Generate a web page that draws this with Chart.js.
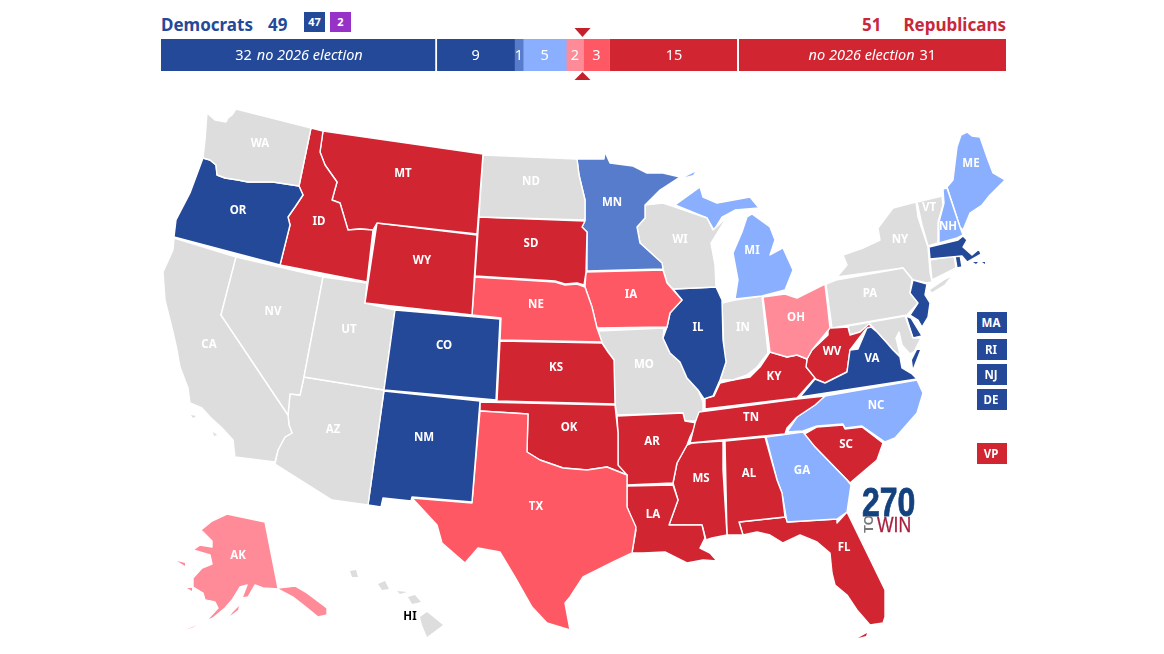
<!DOCTYPE html>
<html>
<head>
<meta charset="utf-8">
<title>2026 Senate map</title>
<script src="https://cdn.jsdelivr.net/npm/chart.js@4"></script>
<style>
  html, body { margin: 0; padding: 0; background: #fff; }
  body { width: 1164px; height: 654px; position: relative; overflow: hidden; font-family: "Noto Sans", sans-serif; }
  canvas { position: absolute; display: block; }
  .abs { position: absolute; white-space: nowrap; }
  .head { font-weight: 700; font-size: 17px; line-height: 20px; top: 15px; }
  .dem { color: #244999; }
  .rep { color: #c9283a; }
  .box { color: #fff; font-weight: 700; text-align: center; }
  .small { top: 12px; width: 21px; height: 20px; line-height: 20px; font-size: 11px; }
  .seat { left: 977px; width: 28px; padding-right: 2px; height: 21px; line-height: 21px; font-size: 11.5px; }
  .logo { font-family: "Liberation Sans", sans-serif; transform-origin: left top; }
</style>
</head>
<body>
<span class="abs head dem" style="left:161px">Democrats</span>
<span class="abs head dem" style="left:268px">49</span>
<span class="abs box small" style="left:304px;background:#244999">47</span>
<span class="abs box small" style="left:330px;background:#9632c8">2</span>
<span class="abs head rep" style="left:862px">51</span>
<span class="abs head rep" style="right:158px">Republicans</span>

<canvas id="seatBar" style="left:161px;top:25px"></canvas>
<canvas id="senateMap" style="left:0;top:0"></canvas>

<span class="abs box seat" style="top:312px;background:#244999">MA</span>
<span class="abs box seat" style="top:339px;background:#244999">RI</span>
<span class="abs box seat" style="top:364px;background:#244999">NJ</span>
<span class="abs box seat" style="top:389px;background:#244999">DE</span>
<span class="abs box seat" style="top:443px;background:#d22532">VP</span>

<span class="abs logo" style="left:862px;top:482px;font-size:41px;line-height:41px;font-weight:700;color:#13427f;-webkit-text-stroke:0.8px #13427f;transform:scaleX(0.78)">270</span>
<span class="abs logo" style="left:862px;top:533px;font-size:13px;line-height:13px;font-weight:700;color:#777;transform:rotate(-90deg)">TO</span>
<span class="abs logo" style="left:877px;top:513px;font-size:22px;line-height:24px;color:#a6213f;-webkit-text-stroke:0.3px #a6213f;transform:scaleX(0.8)">WIN</span>

<script>
// Seat bar, left to right
const barValues = [32, 9, 1, 5, 2, 3, 15, 31];
const barColors = ['#244999', '#244999', '#577ccc', '#8aafff', '#ff8b98', '#ff5865', '#d22532', '#d22532'];
const barNumbers = ['32', '9', '1', '5', '2', '3', '15', '31'];
const noElectionText = 'no 2026 election';
const majorityMark = 49;

// Ratings, by state
const safeDem = ['OR', 'CO', 'NM', 'IL', 'VA', 'MA', 'RI', 'NJ', 'DE', 'VAshore', 'MAi1', 'MAi2'];
const likelyDem = ['MN'];
const leanDem = ['MI', 'MIupper', 'MIisle', 'NH', 'ME', 'NC', 'GA'];
const leanRep = ['OH', 'AK', 'AKi1', 'AKi2', 'AKi3'];
const likelyRep = ['TX', 'NE', 'IA'];
const safeRep = ['ID', 'MT', 'WY', 'SD', 'KS', 'OK', 'AR', 'LA', 'MS', 'AL', 'TN', 'KY', 'WV', 'SC', 'FL', 'FLkeys'];
const noRace = ['WA', 'CA', 'CAi1', 'CAi2', 'NV', 'UT', 'AZ', 'ND', 'WI', 'MO', 'IN', 'PA', 'NY', 'NYli', 'VT', 'CT', 'MD', 'HI1', 'HI2', 'HI3', 'HI4', 'HI5'];
const water = ['WAsound'];
// small pieces get no white outline, it would eat them
const noOutline = ['VAshore', 'MAi1', 'MAi2', 'MIisle', 'AKi1', 'AKi2', 'AKi3', 'FLkeys', 'CAi1', 'CAi2', 'HI1', 'HI2', 'HI3', 'HI4', 'HI5', 'WAsound'];

// State outlines in map units
const WA = [[207,113],[215,120],[226,122],[228,118],[232,115],[236,109],[311,128],[299,186],[273,182],[248,182],[238,180],[225,178],[217,175],[216,165],[210,160],[203,158],[205,140]];
const WAsound = [[231,113],[234,115],[231,125],[228,135],[225,144],[227,134],[229,124]];
const OR = [[203,158],[210,160],[216,165],[217,175],[225,178],[238,180],[248,182],[273,182],[299,186],[303,195],[295,207],[288,217],[290,225],[280,265],[174,237],[176,220],[190,193]];
const ID = [[311,128],[323,131],[320,152],[325,165],[337,182],[332,200],[340,203],[348,230],[360,229],[373,230],[367,282],[280,265],[290,225],[288,217],[295,207],[303,195],[299,186]];
const MT = [[323,131],[483,154],[477,234],[377,223],[373,230],[360,229],[348,230],[340,203],[332,200],[337,182],[325,165],[320,152]];
const WY = [[377,223],[477,235],[472,315],[365,303]];
const ND = [[483,155],[577,159],[579,175],[585,200],[585,220],[479,217]];
const SD = [[479,217],[585,221],[582,227],[587,232],[586,272],[584,285],[577,283],[565,284],[555,281],[475,276]];
const NE = [[475,277],[555,282],[565,285],[577,284],[585,287],[592,307],[597,328],[602,342],[500,340],[501,318],[472,315]];
const CO = [[395,310],[500,319],[496,400],[384,390]];
const UT = [[323,277],[367,283],[365,303],[395,310],[384,390],[304,377]];
const NV = [[236,257],[323,277],[304,377],[300,395],[290,394],[288,415],[221,315]];
const CA = [[174,238],[236,257],[221,315],[288,415],[289,425],[292,433],[285,437],[278,450],[275,462],[235,457],[233,440],[222,428],[210,417],[202,408],[190,403],[188,388],[180,367],[177,350],[173,332],[165,300],[163,272],[173,250]];
const CAi1 = [[191,415],[196,416],[193,418]];
const CAi2 = [[213,432],[217,435],[214,436]];
const AZ = [[304,377],[384,390],[368,505],[332,500],[275,464],[278,450],[285,437],[292,433],[289,425],[288,415],[290,394],[300,395]];
const NM = [[384,391],[480,401],[472,502],[412,497],[411,501],[383,498],[381,507],[368,505]];
const TX = [[480,411],[528,414],[527,452],[540,460],[563,468],[587,470],[607,467],[627,475],[627,507],[636,527],[632,553],[613,562],[583,577],[570,597],[565,603],[570,630],[547,623],[532,607],[515,577],[500,552],[478,548],[465,563],[442,543],[437,525],[412,498],[472,503]];
const OK = [[480,402],[615,405],[618,433],[618,465],[627,475],[607,467],[587,470],[563,468],[540,460],[527,452],[528,414],[480,411]];
const KS = [[500,341],[602,343],[608,352],[614,360],[615,404],[497,401]];
const IA = [[586,272],[663,270],[667,283],[682,300],[670,313],[667,327],[597,328],[592,307],[585,287]];
const MN = [[577,159],[604,159],[605,152],[610,163],[633,166],[647,173],[663,173],[680,177],[660,190],[645,205],[645,218],[637,227],[640,243],[662,263],[663,269],[587,271],[587,232],[582,227],[585,220],[585,200],[579,175]];
const WI = [[645,205],[663,203],[675,207],[707,218],[713,230],[727,217],[711,243],[715,265],[716,287],[673,289],[667,283],[663,269],[662,263],[640,243],[637,227],[645,218]];
const MIupper = [[675,205],[700,187],[703,197],[717,203],[750,197],[759,208],[735,210],[722,217],[714,230],[707,218]];
const MIisle = [[685,177],[695,172],[693,175]];
const MI = [[747,217],[752,214],[770,227],[775,240],[770,255],[783,248],[793,270],[785,290],[762,296],[735,299],[738,280],[733,253],[742,232]];
const IL = [[673,289],[716,287],[722,300],[723,340],[726,362],[720,380],[713,396],[704,399],[698,390],[687,378],[680,362],[670,353],[663,338],[667,327],[670,313],[682,300]];
const IN = [[722,303],[735,300],[762,296],[768,353],[757,367],[747,375],[733,380],[720,380],[726,362],[724,352]];
const OH = [[763,297],[785,294],[797,298],[825,284],[828,310],[830,328],[812,350],[807,359],[797,355],[787,357],[770,352]];
const KY = [[770,352],[787,357],[797,355],[807,359],[806,367],[815,378],[797,398],[722,407],[705,409],[705,398],[714,396],[720,383],[733,380],[750,377],[760,367]];
const TN = [[825,396],[815,405],[797,417],[787,428],[785,434],[690,443],[695,423],[699,412],[722,409],[797,399]];
const AR = [[617,416],[683,413],[685,421],[697,423],[690,437],[687,445],[677,463],[673,483],[627,485],[627,475],[618,470],[618,433]];
const MO = [[598,331],[664,328],[663,338],[670,353],[680,362],[687,378],[698,390],[703,402],[703,410],[697,421],[685,421],[683,413],[617,415],[615,404],[614,360],[608,352],[602,343]];
const LA = [[627,486],[673,485],[678,500],[669,525],[702,525],[705,538],[700,548],[710,553],[717,561],[703,560],[687,563],[665,552],[643,553],[632,553],[636,530],[627,507]];
const MS = [[692,443],[723,441],[723,470],[727,535],[712,538],[706,540],[702,525],[669,525],[678,500],[673,483],[677,463],[687,445]];
const AL = [[725,441],[765,437],[777,480],[782,493],[785,517],[739,522],[743,535],[733,535],[727,535]];
const GA = [[766,437],[803,432],[815,447],[847,480],[851,485],[847,512],[837,519],[787,522],[782,493],[777,480]];
const SC = [[803,435],[817,427],[843,425],[845,429],[862,427],[883,443],[877,460],[857,477],[850,483],[815,447]];
const NC = [[787,432],[797,417],[815,405],[825,396],[917,380],[923,393],[917,413],[895,438],[885,442],[862,426],[845,428],[843,424],[817,426],[803,431]];
const VA = [[800,397],[815,379],[825,383],[847,372],[850,350],[858,349],[867,328],[871,327],[877,332],[887,343],[893,350],[900,357],[902,368],[912,374],[917,379]];
const VAshore = [[917,350],[920,350],[913,368],[912,360]];
const WV = [[828,318],[831,328],[848,327],[850,335],[860,332],[869,324],[873,328],[866,329],[850,350],[847,372],[825,383],[815,379],[806,367],[807,359],[812,350],[828,335]];
const MD = [[848,326],[905,316],[913,338],[921,338],[914,352],[910,354],[902,345],[899,332],[896,338],[899,350],[900,356],[893,350],[887,343],[877,332],[870,324],[860,332],[850,335]];
const DE = [[906,316],[911,318],[922,336],[913,338]];
const NJ = [[913,280],[927,284],[925,295],[930,303],[928,317],[922,327],[918,320],[910,315],[918,303],[910,293]];
const PA = [[826,284],[836,280],[903,268],[912,279],[910,293],[918,303],[907,315],[832,328]];
const NY = [[837,277],[847,265],[843,255],[863,248],[880,240],[878,228],[893,208],[916,202],[918,217],[928,247],[930,272],[932,282],[927,283],[913,280],[903,268]];
const NYli = [[929,290],[945,279],[953,275],[945,285],[932,293]];
const VT = [[917,202],[942,196],[943,205],[938,222],[938,243],[928,246],[922,225]];
const NH = [[943,189],[947,188],[960,227],[963,235],[957,238],[939,243],[939,222],[944,203]];
const ME = [[947,187],[953,180],[957,147],[961,135],[967,132],[972,136],[980,137],[988,160],[993,173],[1005,180],[1000,185],[990,195],[982,205],[970,213],[963,230],[960,227]];
const MA = [[929,247],[958,240],[963,236],[967,240],[963,247],[972,255],[979,249],[981,254],[967,262],[962,256],[930,259]];
const MAi1 = [[973,262],[978,262],[976,264]];
const MAi2 = [[982,262],[985,262],[985,264]];
const RI = [[955,256],[960,255],[962,267],[957,268]];
const CT = [[930,260],[954,256],[956,268],[932,280]];
const FL = [[739,522],[785,517],[788,522],[837,519],[837,523],[847,512],[867,553],[885,590],[885,617],[883,623],[870,625],[857,610],[847,595],[835,585],[832,573],[830,553],[817,542],[800,535],[783,543],[770,535],[757,532],[743,535]];
const FLkeys = [[858,638],[867,633],[866,636]];
const AK = [[227,514],[265,522],[278,588],[295,586],[307,593],[327,608],[327,615],[318,617],[307,608],[293,597],[278,589],[263,588],[255,585],[248,597],[242,598],[247,585],[240,587],[232,600],[225,608],[213,618],[193,628],[170,637],[188,628],[207,620],[218,608],[215,602],[205,600],[203,593],[193,587],[193,578],[202,568],[212,564],[210,555],[193,550],[200,545],[212,547],[212,541],[201,530],[212,521]];
const AKi1 = [[230,616],[238,610],[239,606],[233,612]];
const AKi2 = [[177,561],[185,563],[185,566]];
const AKi3 = [[187,588],[192,588],[192,591]];
const HI1 = [[420,617],[427,612],[443,625],[427,637],[422,625]];
const HI2 = [[408,597],[415,595],[421,602],[412,604]];
const HI3 = [[378,584],[385,581],[389,589],[382,590]];
const HI4 = [[350,571],[356,570],[358,577],[352,577]];
const HI5 = [[397,591],[407,592],[400,594]];

// Where each state label sits, in map units
const labelNames = ['WA','OR','ID','MT','WY','NV','CA','UT','AZ','CO','NM','ND','SD','NE','KS','OK','TX','MN','IA','MO','AR','LA','IL','WI','MI','IN','OH','KY','TN','MS','AL','GA','SC','NC','VA','WV','PA','NY','VT','NH','ME','FL','AK','HI'];
const labelX = [260,238,319,403,422,273,209,349,333,444,424,531,531,536,556,569,536,612,631,644,652,653,698,680,752,743,796,774,751,701,749,802,846,876,872,832,870,900,929,948,971,844,238,410];
const labelY = [144,211,222,174,261,312,345,330,430,346,438,182,244,305,368,428,507,203,295,365,442,515,328,240,251,328,318,377,418,479,474,471,445,406,359,352,294,240,208,227,164,548,556,617];

const stateShapes = {
  WA, OR, ID, MT, WY, ND, SD, NE, CO, UT, NV, CA, CAi1, CAi2, AZ, NM, TX, OK, KS, IA, MN, WI, MIupper, MIisle, MI, IL, IN, OH, KY, TN,
  AR, MO, LA, MS, AL, GA, SC, NC, VA, VAshore, WV, MD, DE, NJ, PA, NY, NYli, VT, NH, ME, MA, MAi1, MAi2, RI, CT, FL, FLkeys,
  AK, AKi1, AKi2, AKi3, HI1, HI2, HI3, HI4, HI5, WAsound,
};

const ratingColors = [
  [safeDem, '#244999'], [likelyDem, '#577ccc'], [leanDem, '#8aafff'],
  [leanRep, '#ff8b98'], [likelyRep, '#ff5865'], [safeRep, '#d22532'], [noRace, '#dddddd'], [water, '#ffffff'],
];

function colorOf(name) {
  const hit = ratingColors.find(([names]) => names.includes(name));
  return hit ? hit[1] : '#dddddd';
}

// Seat bar: numbers, the italic note and the majority markers
const barTextPlugin = {
  id: 'barText',
  afterDatasetsDraw(chart) {
    const { ctx, scales: { x } } = chart;
    ctx.save();
    ctx.fillStyle = '#fff';
    ctx.textBaseline = 'middle';
    const yMid = chart.getDatasetMeta(0).data[0].y + 1;
    const regular = '14.5px "Noto Sans", sans-serif';
    const italic = 'italic 14.5px "Noto Sans", sans-serif';
    barNumbers.forEach((txt, i) => {
      const bar = chart.getDatasetMeta(i).data[0];
      const mid = (bar.x + bar.base) / 2;
      if (i === 0 || i === barNumbers.length - 1) {
        // first and last segment also carry the note
        ctx.font = italic;
        const noteW = ctx.measureText(noElectionText).width;
        ctx.font = regular;
        const numW = ctx.measureText(txt).width;
        const left = mid - (noteW + numW + 5) / 2;
        ctx.textAlign = 'left';
        ctx.font = regular;
        ctx.fillText(txt, i === 0 ? left : left + noteW + 5, yMid);
        ctx.font = italic;
        ctx.fillText(noElectionText, i === 0 ? left + numW + 5 : left, yMid);
      } else {
        ctx.textAlign = 'center';
        ctx.font = regular;
        ctx.fillText(txt, mid, yMid);
      }
    });
    // triangles above and below the bar at the majority line
    const mx = x.getPixelForValue(majorityMark) - 1;
    const { top, bottom } = chart.chartArea;
    ctx.fillStyle = '#c4202c';
    ctx.beginPath();
    ctx.moveTo(mx - 8, top - 11); ctx.lineTo(mx + 8, top - 11); ctx.lineTo(mx, top - 2);
    ctx.closePath(); ctx.fill();
    ctx.beginPath();
    ctx.moveTo(mx - 8, bottom + 9); ctx.lineTo(mx + 8, bottom + 9); ctx.lineTo(mx, bottom + 1);
    ctx.closePath(); ctx.fill();
    ctx.restore();
  },
};

const mapLabelPlugin = {
  id: 'mapLabels',
  afterDatasetsDraw(chart) {
    const { ctx, scales: { x, y } } = chart;
    ctx.save();
    ctx.font = '700 11.5px "Noto Sans", sans-serif';
    ctx.textAlign = 'center';
    ctx.textBaseline = 'middle';
    labelNames.forEach((name, i) => {
      ctx.fillStyle = name === 'HI' ? '#000' : '#fff';
      ctx.fillText(name, x.getPixelForValue(labelX[i]), y.getPixelForValue(labelY[i]));
    });
    ctx.restore();
  },
};

const barCanvas = document.getElementById('seatBar');
barCanvas.width = 845; barCanvas.height = 60;
barCanvas.style.width = '845px'; barCanvas.style.height = '60px';
new Chart(barCanvas, {
  type: 'bar',
  data: {
    labels: ['Seats'],
    datasets: barValues.map((v, i) => ({
      data: [v],
      backgroundColor: barColors[i],
      // white hairline after the "no election" block and before the last one
      borderColor: '#fff',
      borderWidth: i === 0 || i === 6 ? { right: 2 } : 0,
      borderSkipped: false,
      barPercentage: 1,
      categoryPercentage: 1,
    })),
  },
  options: {
    indexAxis: 'y',
    responsive: false,
    animation: false,
    layout: { padding: { top: 14, bottom: 14 } },
    plugins: { legend: { display: false }, tooltip: { enabled: false } },
    scales: {
      x: { display: false, stacked: true, min: 0, max: 98 },
      y: { display: false, stacked: true },
    },
  },
  plugins: [barTextPlugin],
});

const mapCanvas = document.getElementById('senateMap');
mapCanvas.width = 1164; mapCanvas.height = 654;
mapCanvas.style.width = '1164px'; mapCanvas.style.height = '654px';
new Chart(mapCanvas, {
  type: 'scatter',
  data: {
    datasets: Object.keys(stateShapes).map((name) => {
      const ring = stateShapes[name];
      return {
        label: name,
        data: [...ring, ring[0]].map(([x, y]) => ({ x, y })),
        showLine: true,
        fill: 'shape',
        backgroundColor: colorOf(name),
        borderColor: '#fff',
        borderWidth: noOutline.includes(name) ? 0 : 1.4,
        borderJoinStyle: 'round',
        pointRadius: 0,
        tension: 0,
      };
    }),
  },
  options: {
    responsive: false,
    animation: false,
    layout: { padding: 0 },
    events: [],
    plugins: { legend: { display: false }, tooltip: { enabled: false } },
    scales: {
      x: { display: false, type: 'linear', min: 0, max: 1164 },
      y: { display: false, type: 'linear', min: 0, max: 654, reverse: true },
    },
  },
  plugins: [mapLabelPlugin],
});
</script>
</body>
</html>
